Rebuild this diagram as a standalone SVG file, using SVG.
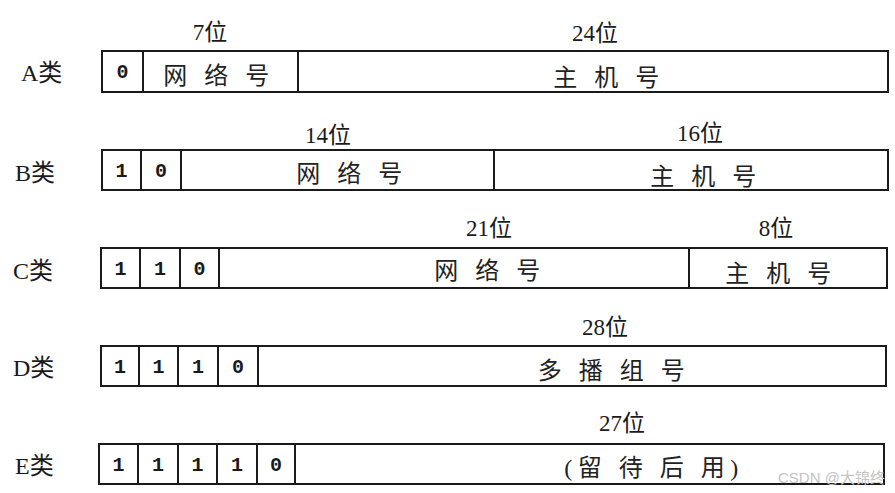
<svg xmlns="http://www.w3.org/2000/svg" width="895" height="493" viewBox="0 0 895 493">
<style>
  .bg{fill:#ffffff}
  .box{fill:none;stroke:#1a1a1a;stroke-width:2}
  .div{stroke:#1a1a1a;stroke-width:2}
  .cls{font-family:"Liberation Serif","Noto Sans CJK SC",serif;font-size:24px;fill:#1a1a1a}
  .wid{font-family:"Liberation Serif","Noto Sans CJK SC",serif;font-size:23px;fill:#1a1a1a;text-anchor:middle}
  .bit{font-family:"Liberation Mono","DejaVu Sans Mono",monospace;font-size:20px;font-weight:bold;fill:#1a1a1a;text-anchor:middle}
  .cn{font-family:"Liberation Serif","Noto Sans CJK SC",sans-serif;font-size:24px;fill:#222;text-anchor:middle;letter-spacing:5.5px}
  .wm{font-family:"Liberation Sans","Noto Sans CJK SC",sans-serif;font-size:15px;fill:#c4c4c4}
</style>
<rect class="bg" x="0" y="0" width="895" height="493"/>

<g id="classA">
  <text class="cls" x="21" y="81">A类</text>
  <text class="wid" x="210" y="40">7位</text>
  <text class="wid" x="595" y="41">24位</text>
  <rect class="box" x="102" y="51" width="786" height="41"/>
  <line class="div" x1="143" y1="51" x2="143" y2="92"/>
  <line class="div" x1="298" y1="51" x2="298" y2="92"/>
  <text class="bit" x="122.5" y="78">0</text>
  <text class="cn" x="219" y="84">网 络 号</text>
  <text class="cn" x="609" y="86">主 机 号</text>
</g>

<g id="classB">
  <text class="cls" x="15" y="181">B类</text>
  <text class="wid" x="328" y="143">14位</text>
  <text class="wid" x="700" y="141">16位</text>
  <rect class="box" x="102" y="150" width="786" height="40"/>
  <line class="div" x1="141" y1="150" x2="141" y2="190"/>
  <line class="div" x1="181" y1="150" x2="181" y2="190"/>
  <line class="div" x1="494" y1="150" x2="494" y2="190"/>
  <text class="bit" x="121.5" y="177">1</text>
  <text class="bit" x="161" y="177">0</text>
  <text class="cn" x="352" y="182">网 络 号</text>
  <text class="cn" x="706" y="185">主 机 号</text>
</g>

<g id="classC">
  <text class="cls" x="13" y="279">C类</text>
  <text class="wid" x="489" y="236">21位</text>
  <text class="wid" x="776" y="236">8位</text>
  <rect class="box" x="101" y="248" width="786" height="40"/>
  <line class="div" x1="140" y1="248" x2="140" y2="288"/>
  <line class="div" x1="180" y1="248" x2="180" y2="288"/>
  <line class="div" x1="219" y1="248" x2="219" y2="288"/>
  <line class="div" x1="689" y1="248" x2="689" y2="288"/>
  <text class="bit" x="120.5" y="275">1</text>
  <text class="bit" x="160" y="275">1</text>
  <text class="bit" x="199.5" y="275">0</text>
  <text class="cn" x="490" y="279">网 络 号</text>
  <text class="cn" x="781" y="282">主 机 号</text>
</g>

<g id="classD">
  <text class="cls" x="13" y="376">D类</text>
  <text class="wid" x="605" y="335">28位</text>
  <rect class="box" x="101" y="346" width="785" height="40"/>
  <line class="div" x1="139" y1="346" x2="139" y2="386"/>
  <line class="div" x1="178" y1="346" x2="178" y2="386"/>
  <line class="div" x1="218" y1="346" x2="218" y2="386"/>
  <line class="div" x1="258" y1="346" x2="258" y2="386"/>
  <text class="bit" x="120" y="373">1</text>
  <text class="bit" x="158.5" y="373">1</text>
  <text class="bit" x="198" y="373">1</text>
  <text class="bit" x="238" y="373">0</text>
  <text class="cn" x="614" y="379">多 播 组 号</text>
</g>

<g id="classE">
  <text class="cls" x="15" y="474">E类</text>
  <text class="wid" x="622" y="431">27位</text>
  <rect class="box" x="99" y="444" width="785" height="40"/>
  <line class="div" x1="138" y1="444" x2="138" y2="484"/>
  <line class="div" x1="178" y1="444" x2="178" y2="484"/>
  <line class="div" x1="217" y1="444" x2="217" y2="484"/>
  <line class="div" x1="257" y1="444" x2="257" y2="484"/>
  <line class="div" x1="295" y1="444" x2="295" y2="484"/>
  <text class="bit" x="118.5" y="471">1</text>
  <text class="bit" x="158" y="471">1</text>
  <text class="bit" x="197.5" y="471">1</text>
  <text class="bit" x="237" y="471">1</text>
  <text class="bit" x="276" y="471">0</text>
  <text class="cn" x="654" y="476">(留 待 后 用)</text>
</g>

<g id="connectors"></g>

<text class="wm" x="778" y="483">CSDN @大锦终</text>
</svg>
